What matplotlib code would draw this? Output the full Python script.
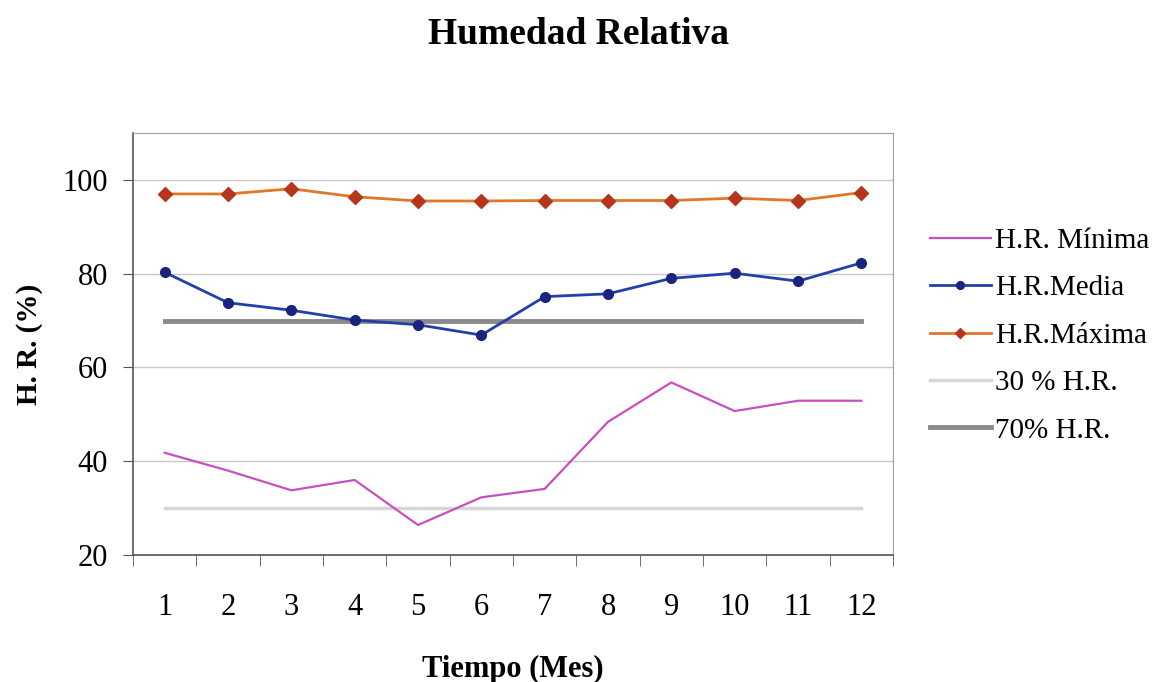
import numpy as np
import matplotlib.pyplot as plt

plt.rcParams['font.family'] = ['Liberation Serif', 'DejaVu Serif']

meses = np.arange(1, 13)
hr_minima = [41.8, 38.0, 33.8, 36.0, 26.4, 32.3, 34.1, 48.4, 56.8, 50.7, 52.9, 52.9]
hr_media = [80.3, 73.8, 72.2, 70.1, 69.1, 66.9, 75.1, 75.7, 79.0, 80.1, 78.4, 82.3]
hr_maxima = [97.0, 97.0, 98.1, 96.4, 95.5, 95.5, 95.6, 95.6, 95.6, 96.1, 95.6, 97.3]
limite_30 = [30] * 12
limite_70 = [70] * 12

fig = plt.figure(figsize=(11.75, 6.82), dpi=100)
ax = fig.add_axes([0.1132, 0.1862, 0.6468, 0.6188])

ax.plot(meses, hr_minima, color='#c94fc0', lw=1.6, label='H.R. Mínima')
ax.plot(meses, hr_media, color='#2340a8', lw=2, marker='o', ms=7,
        mfc='#1a237e', mec='#1a237e', label='H.R.Media')
ax.plot(meses, hr_maxima, color='#e0772a', lw=2, marker='D', ms=7,
        mfc='#b5361c', mec='#b5361c', label='H.R.Máxima')
ax.plot(meses, limite_30, color='#d6d6d6', lw=2.5, label='30 % H.R.', zorder=1)
ax.plot(meses, limite_70, color='#8a8a8a', lw=3.5, label='70% H.R.', zorder=1)

ax.set_xlim(0.5, 12.5)
ax.set_ylim(20, 110)
ax.set_yticks([20, 40, 60, 80, 100])
ax.set_xticks(meses)
ax.set_xticks(np.arange(0.5, 13, 1), minor=True)
ax.tick_params(axis='x', which='major', length=0, pad=27, labelsize=22)
ax.tick_params(axis='x', which='minor', length=8, color='#555555')
ax.tick_params(axis='y', length=7, color='#555555', labelsize=22, pad=11)
ax.grid(axis='y', color='#c8c8c8', lw=1)
ax.set_axisbelow(True)
for s in ['top', 'right']:
    ax.spines[s].set_color('#a0a0a0')
for s in ['left', 'bottom']:
    ax.spines[s].set_color('#555555')
    ax.spines[s].set_linewidth(1.2)

ax.set_ylabel('H. R. (%)', fontsize=21, fontweight='bold', labelpad=14)
ax.set_xlabel('Tiempo (Mes)', fontsize=22, fontweight='bold', labelpad=24)
fig.suptitle('Humedad Relativa', fontsize=27, fontweight='bold', x=0.492, y=0.975)

ax.legend(loc='center left', bbox_to_anchor=(1.033, 0.52), frameon=False,
          fontsize=21, handlelength=2.1, handletextpad=0.15, labelspacing=0.72,
          borderaxespad=0, markerscale=0.8)

fig.savefig('out.png', dpi=100)
